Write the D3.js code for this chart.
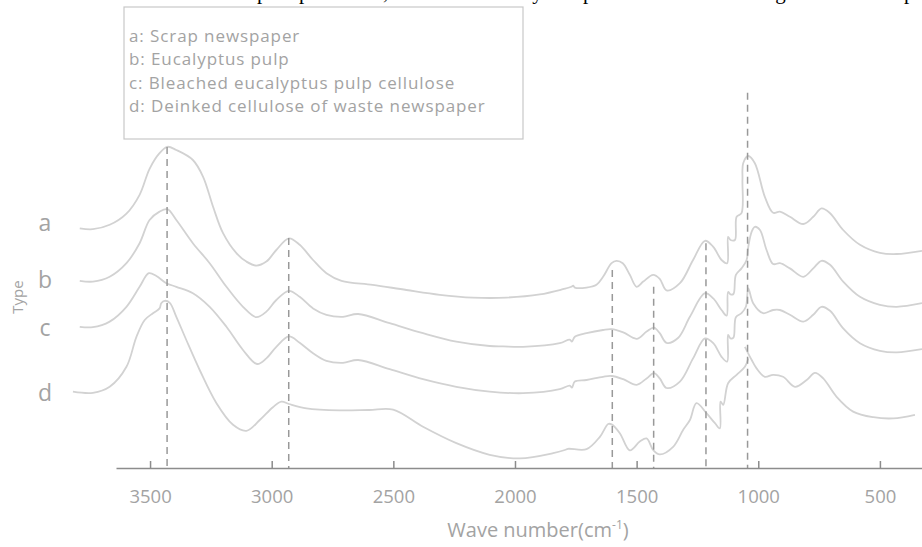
<!DOCTYPE html>
<html>
    <head>
        <meta charset="utf-8">
        <style>
            body { margin: 0; background: #fff; }
            .curve { fill: none; stroke: #d2d2d2; stroke-width: 1.8; }
            .peak { stroke: #999; stroke-width: 1.5; stroke-dasharray: 7,5; }
            .axis path, .axis line { stroke: #8c8c8c; stroke-width: 1.5; }
            .axis text { fill: #a3a3a3; font-family: "Open Sans", sans-serif; font-size: 18.5px; }
            .lbl { fill: #a3a3a3; font-family: "Open Sans", sans-serif; }
        </style>
    </head>
    <body>
        <svg id="chart" width="922" height="547"></svg>
    </body>
    <script src="https://d3js.org/d3.v7.min.js"></script>
    <script>
        // spectra: [wave number, relative transmittance], already offset per sample
        let seriesA = [[3789,59.9],[3735,59.7],[3666,60.8],[3597,63.6],[3543,68.3],[3502,74.8],[3461,78.7],[3429,80.3],[3392,79.5],[3324,77],[3282,72.8],[3241,65.3],[3200,58.7],[3145,53.7],[3104,51.6],[3063,50.6],[3022,51.6],[2981,54.5],[2929,57.4],[2885,55.8],[2830,52],[2775,48.7],[2713,46.8],[2585,45.8],[2446,44.5],[2309,43.3],[2173,42.6],[2035,42.6],[1898,43.4],[1803,44.7],[1768,45.3],[1761,45.6],[1754,45.1],[1706,45.1],[1665,45.8],[1638,47.8],[1603,51.2],[1583,51.8],[1557,51.2],[1528,48.3],[1500,45.3],[1473,46.6],[1432,48.3],[1405,47.3],[1377,44.4],[1322,46.2],[1268,52],[1219,56.8],[1185,55.3],[1151,52],[1128,51.2],[1124,57.8],[1114,57],[1096,57],[1089,62.8],[1069,63.7],[1065,72],[1062,76.2],[1041,78],[1014,76.2],[973,67.8],[939,63.8],[911,64.1],[870,62.8],[815,61],[774,62.8],[740,64.9],[705,63.7],[651,59.5],[582,55.8],[500,53.8],[431,53.5],[327,54.3]]
        let seriesB = [[3789,46.8],[3735,46.6],[3666,47.8],[3597,51.2],[3543,56.2],[3502,62],[3461,64.1],[3429,64.7],[3392,62],[3324,56.2],[3255,51.2],[3186,45.3],[3118,40.3],[3063,37.7],[3022,39.1],[2981,42],[2929,44.3],[2885,42.8],[2830,39.9],[2775,38.3],[2707,37.8],[2645,38.5],[2515,36.2],[2378,33.7],[2241,31.6],[2104,30.5],[2049,30.4],[1967,30.3],[1816,31.2],[1775,32.1],[1766,31.6],[1754,32.8],[1706,33.7],[1638,34.5],[1603,34.7],[1555,33.9],[1500,32.3],[1459,34.1],[1429,35.1],[1405,33.7],[1377,31.3],[1330,32.5],[1281,37.8],[1219,43.7],[1185,42.4],[1151,39.5],[1130,38.1],[1124,44],[1114,43.4],[1102,43.5],[1092,48.3],[1069,49.9],[1048,52],[1041,55.3],[1027,59.1],[1014,60.3],[993,59.5],[966,54.5],[939,51],[911,51.2],[870,49.9],[815,47.8],[774,49.9],[740,51.8],[705,50.8],[651,46.6],[582,42.8],[500,40.8],[431,40.3],[327,41.2]]
        let seriesC = [[3789,35.3],[3735,35.2],[3666,36.6],[3597,40.3],[3543,45.3],[3505,48.7],[3474,48],[3433,46.2],[3392,45.3],[3324,43.7],[3255,40.3],[3186,35.3],[3118,29.5],[3060,26],[3022,27.4],[2981,30.3],[2929,32.9],[2885,31.3],[2830,28.7],[2775,26.8],[2707,26.3],[2645,27],[2515,24.7],[2378,22.2],[2241,20.3],[2104,19.1],[1967,18.7],[1816,19.7],[1775,20.6],[1766,20.1],[1754,21.6],[1706,22],[1638,22.8],[1603,23],[1555,22.2],[1500,20.8],[1459,22.4],[1429,23.7],[1405,22.4],[1377,20],[1322,21.6],[1268,27.4],[1219,32.4],[1185,31.2],[1151,27.8],[1128,26.6],[1124,33.3],[1114,32.4],[1102,32.6],[1092,37.7],[1069,38.7],[1051,40.3],[1041,44.9],[1021,41.2],[980,38.7],[939,39.5],[911,39.5],[870,38.3],[815,36.6],[774,38.3],[740,40.3],[705,39.3],[651,34.9],[582,31.2],[500,29.3],[431,28.9],[327,29.7]]
        let seriesD = [[3817,19.1],[3735,18.8],[3666,20.3],[3597,25.3],[3556,32.8],[3522,37],[3488,38.7],[3461,39.9],[3454,41.2],[3440,41.8],[3419,41.3],[3392,37.8],[3351,32],[3296,24.5],[3227,16.2],[3159,10.8],[3104,9.3],[3049,12],[2995,15.2],[2960,16.6],[2929,16],[2857,14.9],[2720,14.4],[2600,14.5],[2501,14.6],[2378,10.3],[2241,6.2],[2104,3.3],[1980,2.4],[1843,3.7],[1795,4.5],[1782,4.8],[1706,4.7],[1651,7.8],[1617,11],[1603,10.9],[1569,8.7],[1528,4.4],[1487,6.6],[1459,7.4],[1432,4.5],[1405,3.4],[1350,5.3],[1309,9.5],[1281,12],[1254,16.2],[1213,13.7],[1178,11.2],[1158,9.9],[1155,16.6],[1144,15.8],[1124,21.2],[1089,23.3],[1055,25.3],[1041,27.4],null,[1055,30.3],[1027,27],[1007,24.9],[973,22.8],[939,23.3],[898,22.8],[849,20.3],[801,22],[767,23.8],[733,22.4],[678,17.8],[610,14.1],[527,12.7],[445,12.4],[356,13.3]]

        let typeLabels = ["a", "b", "c", "d"]
        let typeLevels = [61.25, 47, 35, 18.75]
        let legendItems = ["a: Scrap newspaper", "b: Eucalyptus pulp", "c: Bleached eucalyptus pulp cellulose", "d: Deinked cellulose of waste newspaper"]
        let waveTicks = [3500, 3000, 2500, 2000, 1500, 1000, 500]
        let peakWaves = [3430, 2930, 1600, 1430, 1215, 1044]
        let peakTops = [80.25, 57.5, 49.5, 45.3, 56.2, 93.8]

        let svg = d3.select("#chart")
        let x = d3.scaleLinear().domain([3640, 327]).range([116, 922])
        let y = d3.scaleLinear().domain([0, 100]).range([468, 68])

        // cut-off caption line from the page above, only the descenders show
        let cap = svg.append("text")
            .attr("y", -1)
            .style("font-family", "'Liberation Serif', serif")
            .style("font-size", "21px")
            .attr("fill", "#000")
        cap.append("tspan").attr("x", 257).text("pure")
        cap.append("tspan").attr("x", 299).text("pretreated, and the chemistry at a point")
        cap.append("tspan").attr("x", 731).text("through the")
        cap.append("tspan").attr("x", 904).text("pulp")

        // legend box
        svg.append("rect")
            .attr("x", 124).attr("y", 7).attr("width", 399).attr("height", 132)
            .attr("fill", "none").attr("stroke", "#c8c8c8").attr("stroke-width", 1.2)
        svg.selectAll(".leg")
            .data(legendItems)
            .enter()
            .append("text")
            .attr("class", "lbl")
            .attr("x", 129)
            .attr("y", (d, i) => 42 + i * 23.3)
            .style("font-size", "17px")
            .style("letter-spacing", "0.9px")
            .text(d => d)

        let line = d3.line()
            .defined(d => d != null)
            .x(d => x(d[0]))
            .y(d => y(d[1]))
            .curve(d3.curveCatmullRom.alpha(0.5))

        svg.selectAll(".curve")
            .data([seriesA, seriesB, seriesC, seriesD])
            .enter()
            .append("path")
            .attr("class", "curve")
            .attr("d", line)

        svg.selectAll(".peak")
            .data(peakWaves)
            .enter()
            .append("line")
            .attr("class", "peak")
            .attr("x1", d => x(d)).attr("x2", d => x(d))
            .attr("y1", (d, i) => y(peakTops[i]))
            .attr("y2", y(0))

        let axis = d3.axisBottom(x)
            .tickValues(waveTicks)
            .tickFormat(d3.format("d"))
            .tickSizeInner(-7)
            .tickSizeOuter(0)
            .tickPadding(22)
        svg.append("g")
            .attr("class", "axis")
            .attr("transform", "translate(0," + y(0) + ")")
            .call(axis)

        svg.selectAll(".type")
            .data(typeLabels)
            .enter()
            .append("text")
            .attr("class", "lbl")
            .attr("x", 45)
            .attr("y", (d, i) => y(typeLevels[i]))
            .attr("dy", "0.35em")
            .attr("text-anchor", "middle")
            .style("font-size", "23px")
            .text(d => d)

        svg.append("text")
            .attr("class", "lbl")
            .attr("transform", "translate(18,297) rotate(-90)")
            .attr("text-anchor", "middle")
            .attr("dy", "0.35em")
            .style("font-size", "15px")
            .text("Type")

        let xt = svg.append("text")
            .attr("class", "lbl")
            .attr("x", 538).attr("y", 537)
            .attr("text-anchor", "middle")
            .style("font-size", "20px")
        xt.append("tspan").text("Wave number(cm")
        xt.append("tspan").attr("dy", -8).style("font-size", "12px").text("-1")
        xt.append("tspan").attr("dy", 8).text(")")
    </script>
</html>
